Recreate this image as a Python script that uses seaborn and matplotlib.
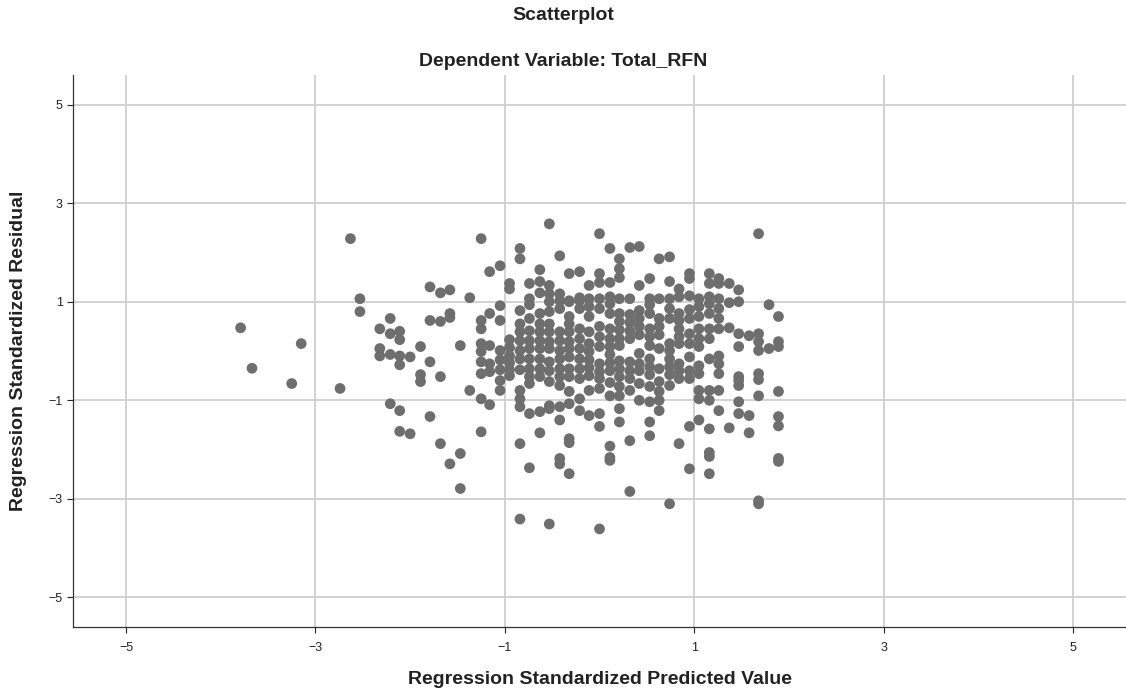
import numpy as np
import pandas as pd
import matplotlib
matplotlib.use("Agg")
import matplotlib.pyplot as plt
import seaborn as sns

# Regression Standardized Predicted Value (x) columns and residuals (y) read per column
col_pred = [-3.79, -3.67, -3.25, -3.15, -2.74, -2.63, -2.53, -2.32, -2.21, -2.11,
            -2.00, -1.89, -1.79, -1.68, -1.58, -1.47, -1.37, -1.25, -1.16, -1.05,
            -0.95, -0.84, -0.74, -0.63, -0.53, -0.42, -0.32, -0.21, -0.11, 0.00,
            0.11, 0.21, 0.32, 0.42, 0.53, 0.63, 0.74, 0.84, 0.95, 1.05,
            1.16, 1.26, 1.37, 1.47, 1.58, 1.68, 1.79, 1.89]

col_resid = [
    [0.47],
    [-0.35],
    [-0.66],
    [0.15],
    [-0.76],
    [2.28],
    [1.06, 0.80],
    [0.45, 0.05, -0.10],
    [0.66, 0.35, -0.07, -1.07],
    [0.40, 0.23, -0.10, -0.28, -1.21, -1.63],
    [-0.12, -1.68],
    [0.09, -0.48, -0.62],
    [1.30, 0.62, -0.22, -1.33],
    [1.18, 0.60, -0.52, -1.88],
    [1.24, 0.76, 0.68, -2.29],
    [0.11, -2.08, -2.79],
    [1.08, -0.80],
    [2.28, 0.62, 0.45, 0.15, -0.01, -0.22, -0.46, -0.97, -1.64],
    [1.61, 0.76, 0.11, -0.26, -0.42, -1.09],
    [1.73, 0.92, 0.62, 0.01, -0.18, -0.38, -0.60, -0.80],
    [1.37, 1.26, 0.23, 0.07, -0.10, -0.24, -0.38, -0.50],
    [2.08, 1.87, 0.82, 0.55, 0.39, 0.21, 0.01, -0.16, -0.38, -0.80, -0.97, -1.13, -1.88, -3.41],
    [1.37, 1.06, 0.94, 0.66, 0.41, 0.21, 0.05, -0.16, -0.36, -0.52, -0.66, -1.27, -2.37],
    [1.65, 1.41, 1.18, 0.76, 0.55, 0.39, 0.21, 0.05, -0.16, -0.36, -0.52, -1.23, -1.66],
    [2.58, 1.33, 1.16, 1.00, 0.80, 0.55, 0.39, 0.19, 0.05, -0.22, -0.40, -0.62, -1.11, -1.17, -3.51],
    [1.93, 1.16, 1.02, 0.86, 0.39, 0.21, 0.01, -0.16, -0.36, -0.52, -0.70, -1.13, -1.40, -2.18, -2.29],
    [1.57, 1.02, 1.00, 0.70, 0.55, 0.39, 0.19, 0.05, -0.12, -0.36, -0.52, -0.82, -1.07, -1.78, -1.86, -2.49],
    [1.61, 1.08, 1.02, 0.86, 0.45, 0.25, 0.05, -0.16, -0.36, -0.56, -0.97, -1.21],
    [1.33, 1.06, 0.90, 0.70, 0.39, 0.15, -0.01, -0.18, -0.34, -0.50, -0.80, -1.31],
    [2.38, 1.57, 1.39, 1.06, 0.86, 0.50, 0.29, 0.09, -0.26, -0.42, -0.56, -0.76, -1.27, -1.53, -3.61],
    [2.08, 1.39, 1.10, 0.96, 0.76, 0.45, 0.25, 0.09, -0.07, -0.24, -0.40, -0.64, -0.91, -1.93, -2.16, -2.22],
    [1.87, 1.67, 1.49, 1.06, 0.76, 0.60, 0.43, 0.25, 0.11, -0.20, -0.36, -0.52, -0.72, -0.91, -1.17, -1.44],
    [2.10, 1.06, 0.74, 0.58, 0.41, 0.25, -0.22, -0.40, -0.56, -0.80, -1.82, -2.85],
    [2.12, 1.33, 0.82, 0.66, 0.50, 0.33, -0.05, -0.26, -0.40, -0.66, -1.00],
    [1.47, 1.06, 0.94, 0.76, 0.45, 0.29, 0.11, -0.16, -0.32, -0.48, -0.72, -1.03, -1.44, -1.72],
    [1.87, 1.06, 0.66, 0.50, 0.33, 0.05, -0.36, -0.62, -0.82, -1.00, -1.21],
    [1.91, 1.41, 1.06, 0.86, 0.66, 0.15, 0.01, -0.16, -0.32, -0.48, -0.70, -3.10],
    [1.26, 1.10, 0.76, 0.62, 0.45, 0.29, 0.15, -0.26, -0.40, -0.56, -1.88],
    [1.57, 1.47, 1.12, 0.84, 0.66, 0.35, 0.15, -0.12, -0.40, -0.56, -1.53, -2.39],
    [1.06, 0.90, 0.70, 0.45, 0.25, 0.09, -0.30, -0.46, -0.80, -0.97, -1.40],
    [1.57, 1.37, 1.10, 0.96, 0.76, 0.45, 0.25, -0.16, -0.80, -1.00, -1.58, -2.06, -2.14, -2.49],
    [1.47, 1.37, 1.06, 0.86, 0.66, 0.45, -0.10, -0.26, -0.46, -0.80, -1.21],
    [1.37, 0.98, 0.47, -1.56],
    [1.24, 1.00, 0.35, 0.09, -0.52, -0.60, -0.70, -1.03, -1.27],
    [0.31, -1.31, -1.66],
    [2.38, 0.35, 0.19, 0.01, -0.46, -0.58, -0.91, -3.04, -3.10],
    [0.94, 0.05],
    [0.70, 0.19, 0.09, -0.82, -1.33, -1.52, -2.18, -2.24],
]

rows = [(xv, yv) for xv, ys in zip(col_pred, col_resid) for yv in ys]
df = pd.DataFrame(rows, columns=["pred", "resid"])

tick_vals = [-5, -3, -1, 1, 3, 5]
tick_labels = ["\u22125", "\u22123", "\u22121", "1", "3", "5"]

sns.set_theme(style="white")
plt.rcParams['font.family'] = ['Liberation Sans', 'DejaVu Sans']

fig = plt.figure(figsize=(11.26, 6.95), dpi=100)
ax = fig.add_axes([73/1126, 1 - 627/695, 1 - 73/1126, (627 - 75)/695])

sns.scatterplot(data=df, x="pred", y="resid", ax=ax, color="#6e6e6e",
                s=60, linewidth=0, edgecolor="none", alpha=1.0, zorder=3)

ax.set_xlim(-5.56, 5.56)
ax.set_ylim(-5.6, 5.6)
ax.set_xticks(tick_vals)
ax.set_xticklabels(tick_labels)
ax.set_yticks(tick_vals)
ax.set_yticklabels(tick_labels)
ax.grid(True, color="#cfcfcf", linewidth=1.3, zorder=0)
ax.set_axisbelow(True)
for side in ["top", "right"]:
    ax.spines[side].set_visible(False)
for side in ["left", "bottom"]:
    ax.spines[side].set_color("#333333")
    ax.spines[side].set_linewidth(0.9)
ax.tick_params(axis="both", which="both", labelsize=9, colors="#222222",
               length=4, width=0.8, direction="out", left=True, bottom=True)
ax.tick_params(axis="x", pad=7)

ax.set_xlabel("Regression Standardized Predicted Value", fontsize=14,
              fontweight="bold", color="#222222")
ax.set_ylabel("Regression Standardized Residual", fontsize=14,
              fontweight="bold", color="#222222")
ax.xaxis.set_label_coords(0.5, -0.096)
ax.yaxis.set_label_coords(-0.052, 0.5)
ax.xaxis.label.set_va("center")
ax.yaxis.label.set_va("center")

fig.text(0.5, 1 - 16/695, "Scatterplot", ha="center", va="center",
         fontsize=14, fontweight="bold", color="#222222")
fig.text(0.5, 1 - 61/695, "Dependent Variable: Total_RFN", ha="center",
         va="center", fontsize=14, fontweight="bold", color="#222222")

fig.savefig("out.png", dpi=100)
